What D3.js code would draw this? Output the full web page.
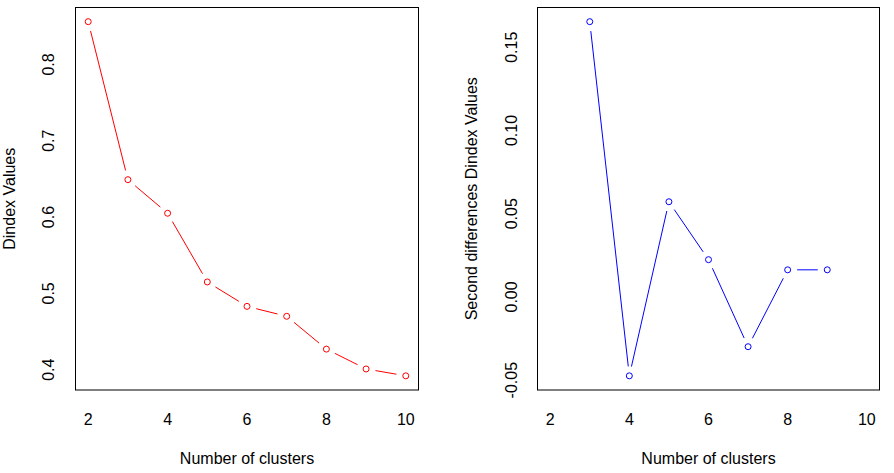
<!DOCTYPE html>
<html>
<head>
<meta charset="utf-8">
<script src="https://cdn.jsdelivr.net/npm/d3@7"></script>
<style>
  body { margin: 0; background: #fff; }
  text { font-family: "Liberation Sans", Arial, sans-serif; }
</style>
</head>
<body>
<div id="chart"></div>
<script>
// values
const clusters = [2, 3, 4, 5, 6, 7, 8, 9, 10];
const dindex = [0.856, 0.649, 0.605, 0.515, 0.483, 0.470, 0.427, 0.401, 0.392];
const diffClusters = [3, 4, 5, 6, 7, 8, 9];
const secondDiff = [0.1654, -0.0474, 0.0572, 0.0224, -0.0299, 0.0163, 0.0163];
const xTicks = [2, 4, 6, 8, 10];
const leftTicks = [0.4, 0.5, 0.6, 0.7, 0.8];
const rightTicks = [-0.05, 0, 0.05, 0.10, 0.15];

const width = 894, height = 473;
const svg = d3.select('#chart').append('svg')
  .attr('width', width).attr('height', height);

// R style: extend data range by 4% each side
function rRange(vals) {
  const [a, b] = d3.extent(vals);
  const pad = (b - a) * 0.04;
  return [a - pad, b + pad];
}

function panel(opts) {
  const g = svg.append('g');
  const x = d3.scaleLinear().domain(rRange([2, 10])).range([opts.left, opts.right]);
  const y = d3.scaleLinear().domain(rRange(opts.values)).range([opts.bottom, opts.top]);

  g.append('rect')
    .attr('x', opts.left).attr('y', opts.top)
    .attr('width', opts.right - opts.left).attr('height', opts.bottom - opts.top)
    .attr('fill', 'none').attr('stroke', '#000').attr('stroke-width', 1);

  g.selectAll('.xt').data(xTicks).enter().append('text')
    .attr('x', d => x(d)).attr('y', 425)
    .attr('text-anchor', 'middle').attr('font-size', 16)
    .text(d => d);

  g.selectAll('.yt').data(opts.ticks).enter().append('text')
    .attr('transform', d => `translate(${opts.tickX},${y(d)}) rotate(-90)`)
    .attr('text-anchor', 'middle').attr('font-size', 16)
    .text(opts.fmt);

  g.append('text')
    .attr('x', (opts.left + opts.right) / 2).attr('y', 464)
    .attr('text-anchor', 'middle').attr('font-size', 16)
    .text('Number of clusters');

  g.append('text')
    .attr('transform', `translate(${opts.titleX},${(opts.top + opts.bottom) / 2}) rotate(-90)`)
    .attr('text-anchor', 'middle').attr('font-size', 16)
    .text(opts.title);

  const pts = opts.xs.map((d, i) => ({ px: x(d), py: y(opts.values[i]) }));
  const gap = 9.5;
  const segs = d3.pairs(pts).map(([a, b]) => {
    const dx = b.px - a.px, dy = b.py - a.py;
    const len = Math.hypot(dx, dy);
    const ux = dx / len, uy = dy / len;
    return { x1: a.px + ux * gap, y1: a.py + uy * gap, x2: b.px - ux * gap, y2: b.py - uy * gap, ok: len > 2 * gap };
  }).filter(s => s.ok);

  g.selectAll('.seg').data(segs).enter().append('line')
    .attr('x1', d => d.x1).attr('y1', d => d.y1)
    .attr('x2', d => d.x2).attr('y2', d => d.y2)
    .attr('stroke', opts.color).attr('stroke-width', 1);

  g.selectAll('.pt').data(pts).enter().append('circle')
    .attr('cx', d => d.px).attr('cy', d => d.py).attr('r', 3)
    .attr('fill', 'none').attr('stroke', opts.color).attr('stroke-width', 1);
}

panel({
  left: 75.5, right: 418.5, top: 7.5, bottom: 390,
  xs: clusters, values: dindex, ticks: leftTicks,
  fmt: d => d3.format('.1f')(d), tickX: 54, titleX: 15,
  title: 'Dindex Values', color: '#ff0000'
});

panel({
  left: 537.5, right: 879.5, top: 7.5, bottom: 390,
  xs: diffClusters, values: secondDiff, ticks: rightTicks,
  fmt: d => d3.format('.2f')(d).replace('−', '-'), tickX: 517, titleX: 477,
  title: 'Second differences Dindex Values', color: '#0000ff'
});
</script>
</body>
</html>
